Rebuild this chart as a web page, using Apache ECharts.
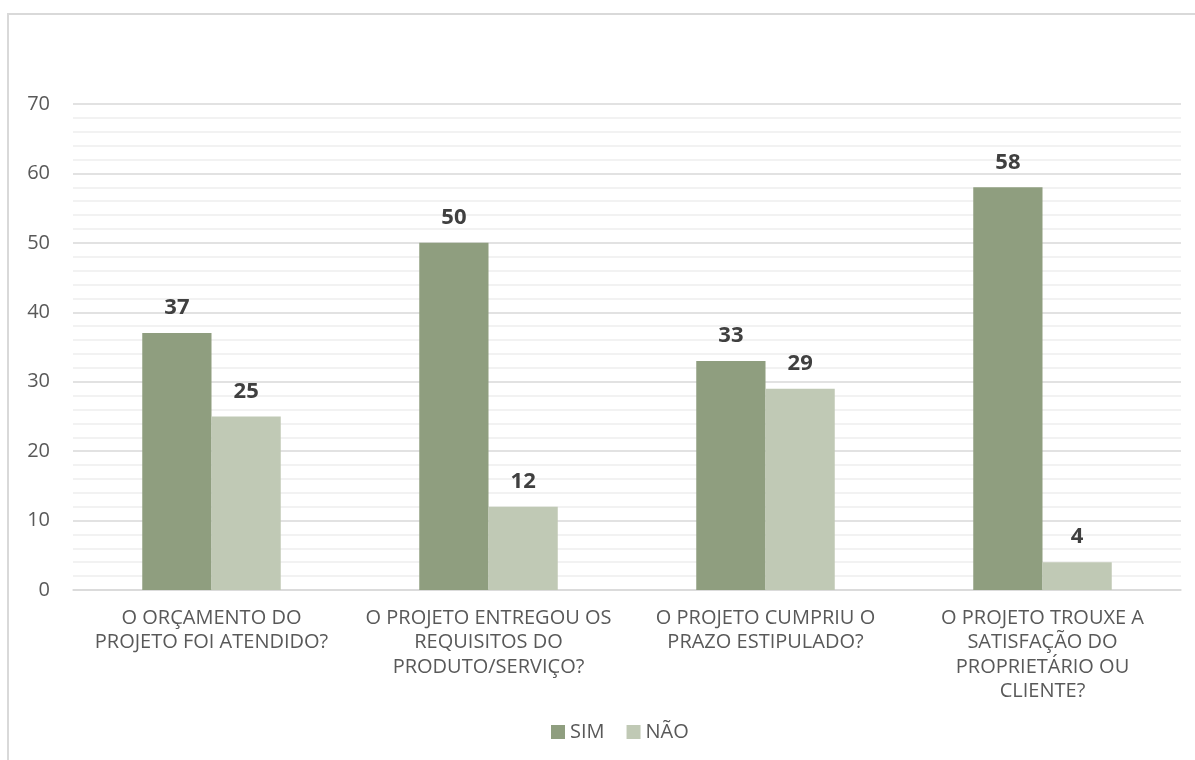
<!DOCTYPE html>
<html>
<head>
<meta charset="utf-8">
<script src="https://cdn.jsdelivr.net/npm/echarts@6/dist/echarts.min.js"></script>
<style>
  html, body { margin: 0; padding: 0; background: #fff; overflow: hidden; }
  #frame { position: absolute; left: 7px; top: 13px; width: 1250px; height: 800px; border: 2px solid #d9d9d9; box-sizing: border-box; }
  #chart { position: absolute; left: 0; top: 0; width: 1195px; height: 760px; }
</style>
</head>
<body>
<div id="frame"></div>
<div id="chart"></div>
<script>
// Survey questions and answer counts
const categories = [
  'O ORÇAMENTO DO\nPROJETO FOI ATENDIDO?',
  'O PROJETO ENTREGOU OS\nREQUISITOS DO\nPRODUTO/SERVIÇO?',
  'O PROJETO CUMPRIU O\nPRAZO ESTIPULADO?',
  'O PROJETO TROUXE A\nSATISFAÇÃO DO\nPROPRIETÁRIO OU\nCLIENTE?'
];
const simValues = [37, 50, 33, 58];
const naoValues = [25, 12, 29, 4];
const seriesNames = ['SIM', 'NÃO'];

const FONT = '"Open Sans", "Noto Sans", sans-serif';
const chart = echarts.init(document.getElementById('chart'), null, { renderer: 'canvas' });

const labelStyle = {
  show: true,
  position: 'top',
  distance: 14,
  fontFamily: FONT,
  fontSize: 22,
  fontWeight: 'bold',
  color: '#404040'
};

chart.setOption({
  animation: false,
  backgroundColor: 'transparent',
  grid: { left: 73, right: 14, top: 104, bottom: 170, containLabel: false },
  legend: {
    bottom: 13,
    left: 546,
    itemWidth: 14,
    itemHeight: 14,
    itemGap: 22,
    icon: 'rect',
    textStyle: { fontFamily: FONT, fontSize: 20, color: '#595959', padding: [0, 0, 0, 0] },
    data: seriesNames
  },
  xAxis: {
    type: 'category',
    data: categories,
    axisLine: { lineStyle: { color: '#d9d9d9', width: 1.5 } },
    axisTick: { show: false },
    axisLabel: {
      fontFamily: FONT,
      fontSize: 20,
      color: '#595959',
      lineHeight: 24.5,
      margin: 16,
      interval: 0
    }
  },
  yAxis: {
    type: 'value',
    min: 0,
    max: 70,
    interval: 10,
    axisLine: { show: false },
    axisTick: { show: false },
    axisLabel: { fontFamily: FONT, fontSize: 20, color: '#595959', margin: 23 },
    splitLine: { lineStyle: { color: '#d9d9d9', width: 1.5 } },
    minorTick: { show: false, splitNumber: 5 },
    minorSplitLine: { show: true, lineStyle: { color: '#eeeeee', width: 1.5 } }
  },
  series: [
    {
      name: seriesNames[0],
      type: 'bar',
      data: simValues,
      barGap: '0%',
      barCategoryGap: '50%',
      itemStyle: { color: '#8f9e7f' },
      label: labelStyle
    },
    {
      name: seriesNames[1],
      type: 'bar',
      data: naoValues,
      itemStyle: { color: '#c0c9b5' },
      label: labelStyle
    }
  ]
});
</script>
</body>
</html>
